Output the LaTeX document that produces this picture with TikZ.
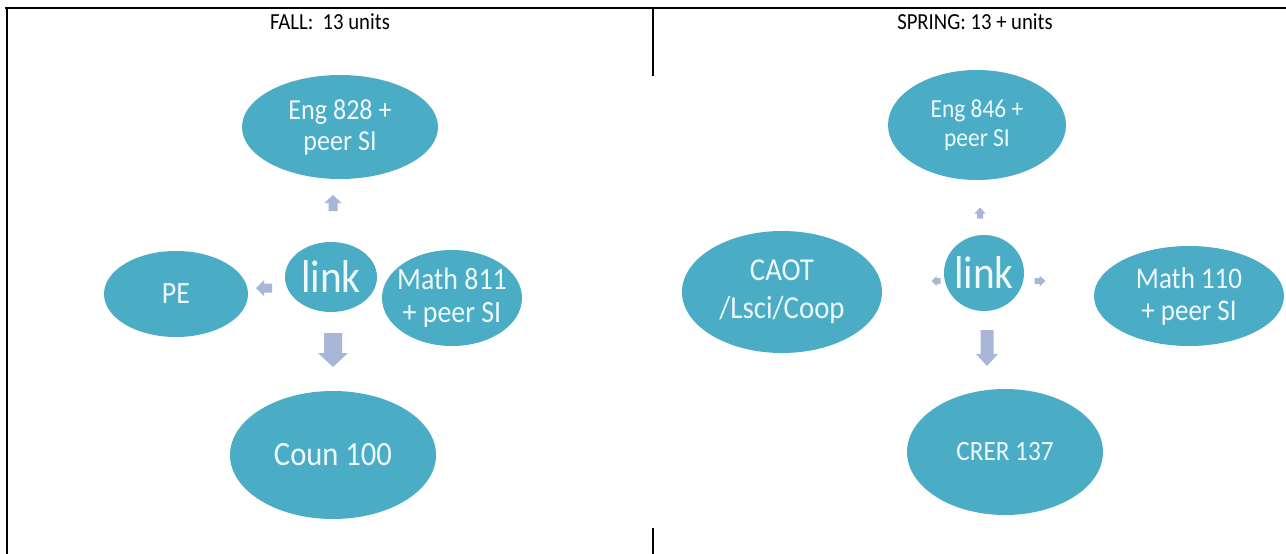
\documentclass[tikz,border=0pt]{standalone}
\usepackage{fontspec}
\setmainfont{Carlito}
\newfontfamily\cfont[FakeStretch=0.9]{Carlito}
\usetikzlibrary{shapes.geometric}
\definecolor{bubblefill}{HTML}{4BACC6}
\definecolor{arrowfill}{HTML}{A8B6D8}
\definecolor{bubbletext}{HTML}{EEF9FC}
\newcommand\blockarrowshape[8]{% name, x, y, angle, length, shaft, head width, head length
  \begin{scope}[shift={(#2,#3)},rotate=#4]
    \fill[arrowfill] ({-#5/2},{-#6/2}) -- ({#5/2-#8},{-#6/2}) -- ({#5/2-#8},{-#7/2})
      -- ({#5/2},0) -- ({#5/2-#8},{#7/2}) -- ({#5/2-#8},{#6/2}) -- ({-#5/2},{#6/2}) -- cycle;
    \coordinate (#1) at (0,0);
  \end{scope}}
\begin{document}
\begin{tikzpicture}[x=1pt,y=-1pt,
  bubble/.style={ellipse, fill=bubblefill, text=bubbletext, inner sep=-8pt, align=center},
  fs/.style 2 args={font=\cfont\fontsize{#1}{#2}\selectfont},
  title/.style={font=\cfont\fontsize{23}{25}\selectfont, text=black, inner sep=0pt},
  rule/.style={line width=2.5pt, black}]
\useasboundingbox (0,0) rectangle (1286,554);
\fill[white] (0,0) rectangle (1286,554);
% table rules
\draw[rule] (5,8) -- (1286,8);
\draw[rule] (7,8) -- (7,554);
\draw[rule] (653,8) -- (653,76);
\draw[rule] (653,528) -- (653,554);
% titles
\node[title] (fall) at (330,22) {FALL:\ \ 13 units};
\node[title] (spring) at (975,22) {SPRING: 13 + units};
% left diagram
\node[bubble, fs={29}{31}, minimum width=196pt, minimum height=104pt] (eng1) at (340,127) {Eng 828 +\\peer SI};
\node[bubble, fs={46}{48}, minimum width=92pt, minimum height=70pt] (link1) at (331,277) {link};
\node[bubble, fs={31}{33}, minimum width=144pt, minimum height=86pt] (pe) at (176,294) {PE};
\node[bubble, fs={31}{33}, minimum width=140pt, minimum height=96pt] (math1) at (452,298) {Math 811\\+ peer SI};
\node[bubble, fs={34}{36}, minimum width=206pt, minimum height=128pt] (coun) at (333,455) {Coun 100};
\blockarrowshape{a1up}{333}{203}{90}{16}{9}{17}{8}
\blockarrowshape{a1left}{264}{288}{180}{16}{9}{16}{8}
\blockarrowshape{a1down}{333}{350}{270}{34}{18}{30}{14}
% right diagram
\node[bubble, fs={26}{29}, minimum width=178pt, minimum height=110pt] (eng2) at (977,125) {Eng 846 +\\peer SI};
\node[bubble, fs={46}{48}, minimum width=80pt, minimum height=76pt] (link2) at (984,273) {link};
\node[bubble, fs={32}{38}, minimum width=200pt, minimum height=122pt] (caot) at (782,292) {CAOT\\/Lsci/Coop};
\node[bubble, fs={30}{32}, minimum width=190pt, minimum height=100pt] (math2) at (1189,296) {Math 110\\+ peer SI};
\node[bubble, fs={28}{30}, minimum width=196pt, minimum height=126pt] (crer) at (1005,452) {CRER 137};
\blockarrowshape{a2up}{980}{213}{90}{11}{6}{11}{6}
\blockarrowshape{a2left}{936}{281}{180}{9}{6}{10}{5}
\blockarrowshape{a2right}{1040}{281}{0}{11}{6}{11}{6}
\blockarrowshape{a2down}{987}{348}{270}{36}{13}{22}{12}
\end{tikzpicture}
\end{document}
